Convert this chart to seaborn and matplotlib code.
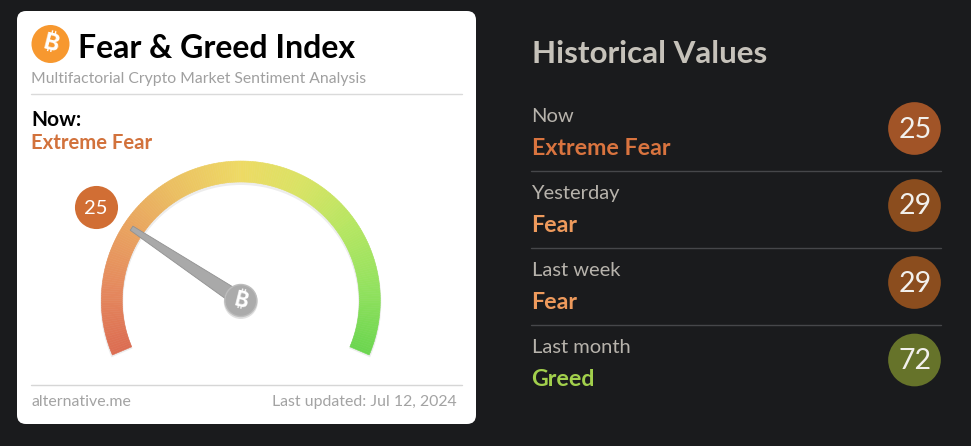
import numpy as np
import pandas as pd
import seaborn as sns
import matplotlib.pyplot as plt
from matplotlib.patches import Circle, FancyBboxPatch, Polygon, Wedge

# values
index_value = 25
hist_periods = ["Now", "Yesterday", "Last week", "Last month"]
hist_status = ["Extreme Fear", "Fear", "Fear", "Greed"]
hist_values = [25, 29, 29, 72]
hist_text_colors = ["#d9743f", "#ee9a5c", "#ee9a5c", "#a2d04c"]
hist_badge_colors = ["#a15427", "#8b4d1e", "#8b4d1e", "#66732a"]
gauge_colors = ["#dc6d52", "#e58a5e", "#e9a45f", "#ebc262", "#eeda64", "#d9e364", "#b6e662", "#94e25f", "#6cd64f"]

BG = "#1a1b1d"
CX, CY = 240.8, 300.5
R_OUT, R_IN = 139.5, 118.5
A_START, A_END = 203, -23


def val_angle(v):
    return np.radians(A_START + (A_END - A_START) * v / 100)


def btc(ax, x, y, size, color):
    ax.text(x, y, "\u20bf", fontsize=size, color=color, ha="center", va="center", rotation=-14,
            family=["Inter", "Noto Sans", "Roboto", "Open Sans", "Liberation Sans", "DejaVu Sans"],
            fontweight="bold", zorder=8)


sns.set_theme(style="white")
plt.rcParams["font.family"] = ["Lato", "DejaVu Sans"]

fig = plt.figure(figsize=(9.71, 4.46), dpi=100, facecolor=BG)
ax = fig.add_axes([0, 0, 1, 1])
ax.set_xlim(0, 971)
ax.set_ylim(446, 0)
ax.axis("off")

# white card
ax.add_patch(FancyBboxPatch((26, 20), 441, 395, boxstyle="round,pad=9,rounding_size=9",
                            fc="white", ec="none", zorder=1))

# header
ax.add_patch(Circle((50.5, 44), 19, fc="#f7982f", ec="none", zorder=3))
btc(ax, 50.5, 44, 17, "white")
ax.text(78, 58, "Fear & Greed Index", fontsize=23, fontweight="bold", color="black", zorder=3)
ax.text(31, 83, "Multifactorial Crypto Market Sentiment Analysis", fontsize=11.35, color="#a0a0a0", zorder=3)
ax.plot([31, 462], [93.5, 93.5], color="#dadada", lw=1, zorder=3)
ax.text(31, 126, "Now:", fontsize=15, fontweight="bold", color="black", zorder=3)
ax.text(31, 149, "Extreme Fear", fontsize=14.6, fontweight="bold", color="#d2723c", zorder=3)

# gauge
steps = 226
shades = sns.blend_palette(gauge_colors, steps)
# soft shadow under the arc
ax.add_patch(Wedge((CX, CY + 2), R_OUT + 1, -A_START, -A_END, width=R_OUT - R_IN + 2,
                   fc="#000000", alpha=0.07, ec="none", zorder=2))
edges = np.linspace(A_START, A_END, steps + 1)
for i in range(steps):
    # y axis is flipped so the angles go negative
    ax.add_patch(Wedge((CX, CY), R_OUT, -edges[i], -edges[i + 1], width=R_OUT - R_IN,
                       fc=shades[i], ec=shades[i], lw=0.4, zorder=3))

# needle
a = val_angle(index_value)
ux, uy = np.cos(a), -np.sin(a)
nx, ny = -uy, ux
tip = 131
needle = [(CX + ux * tip + nx * 2.5, CY + uy * tip + ny * 2.5),
          (CX + ux * tip - nx * 2.5, CY + uy * tip - ny * 2.5),
          (CX - nx * 7.5, CY - ny * 7.5),
          (CX + nx * 7.5, CY + ny * 7.5)]
ax.add_patch(Polygon(needle, closed=True, fc="#a9a9a9", ec="#919191", lw=0.6, zorder=5))
ax.add_patch(Circle((CX, CY + 1.5), 17, fc="black", alpha=0.12, ec="none", zorder=5))
ax.add_patch(Circle((CX, CY), 16, fc="#ababab", ec="#bdbdbd", lw=1, zorder=6))
btc(ax, CX, CY, 15, "white")

# value badge on the card
sns.scatterplot(x=[96], y=[207], s=963, color="#d16e34", linewidth=0, ax=ax, zorder=4, legend=False)
ax.text(95.5, 208, str(index_value), fontsize=14.5, color="white", ha="center", va="center", zorder=5)

# footer
ax.plot([31, 462], [384.5, 384.5], color="#d6d6d6", lw=1, zorder=3)
ax.text(31, 406, "alternative.me", fontsize=11.4, color="#a3a3a3", zorder=3)
ax.text(456.5, 406, "Last updated: Jul 12, 2024", fontsize=11.45, color="#a3a3a3", ha="right", zorder=3)

# right column
ax.text(531.5, 63, "Historical Values", fontsize=22.6, fontweight="bold", color="#c6c2ba")
row_y = [128.5, 205.5, 282.5, 360]
line_y = [170.5, 247.5, 324.5]
df = pd.DataFrame({"period": hist_periods, "value": hist_values, "y": row_y})
sns.scatterplot(data=df, x=[914.5] * len(df), y="y", hue="period", palette=hist_badge_colors,
                s=1440, linewidth=0, ax=ax, legend=False, zorder=3)
for i, y in enumerate(row_y):
    ax.text(531.5, y - 7, hist_periods[i], fontsize=14.5, color="#b7b3ac")
    ax.text(531.5, y + 26.5, hist_status[i], fontsize=16.7, fontweight="bold", color=hist_text_colors[i])
    ax.text(915, y + 1, str(hist_values[i]), fontsize=20.5, color="#f2f0ec", ha="center", va="center", zorder=4)
for y in line_y:
    ax.plot([531, 941], [y, y], color="#46474a", lw=1)

ax.set_xlim(0, 971)
ax.set_ylim(446, 0)
fig.savefig("out.png", dpi=100, facecolor=BG)
